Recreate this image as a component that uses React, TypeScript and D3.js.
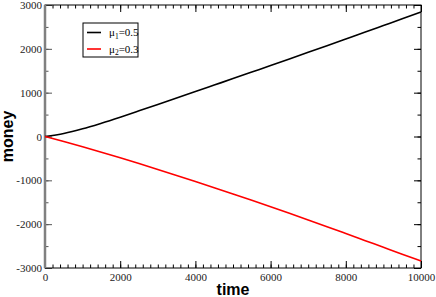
import { useEffect, useRef } from "react";
import * as d3 from "d3";

// time steps and the two money series
const time = [0, 500, 1000, 1500, 2000, 2500, 3000, 3500, 4000, 4500, 5000, 5500, 6000, 6500, 7000, 7500, 8000, 8500, 9000, 9500, 10000];
const moneyMu1 = [0, 70, 175, 303, 441, 585, 731, 878, 1025, 1173, 1321, 1470, 1619, 1769, 1920, 2072, 2225, 2378, 2532, 2686, 2842];
const moneyMu2 = [0, -115, -235, -359, -487, -618, -752, -889, -1028, -1169, -1312, -1457, -1604, -1753, -1904, -2057, -2213, -2370, -2527, -2684, -2840];

const xTicks = [0, 2000, 4000, 6000, 8000, 10000];
const yTicks = [-3000, -2000, -1000, 0, 1000, 2000, 3000];

const series = [
  { label: "1", mu: "0.5", color: "#000000", values: moneyMu1 },
  { label: "2", mu: "0.3", color: "#ff0000", values: moneyMu2 },
];

const App = () => {
  const ref = useRef<SVGSVGElement>(null);

  useEffect(() => {
    const svg = d3.select(ref.current);
    svg.selectAll("*").remove();

    const margin = { top: 5, right: 15, bottom: 29, left: 45 };
    const W = 436, H = 297;
    const width = W - margin.left - margin.right;
    const height = H - margin.top - margin.bottom;

    const g = svg.append("g").attr("transform", `translate(${margin.left},${margin.top})`);

    const x = d3.scaleLinear().domain([0, 10000]).range([0, width]);
    const y = d3.scaleLinear().domain([-3000, 3000]).range([height, 0]);

    const font = "'Liberation Serif', 'Times New Roman', serif";
    const minorX = d3.range(0, 10001, 200);
    const minorY = d3.range(-3000, 3001, 500);
    const fmt = (d: d3.NumberValue) => String(d);

    // bottom axis
    const bottom = g.append("g").attr("transform", `translate(0,${height})`);
    bottom.append("g").call(d3.axisBottom(x).tickValues(minorX).tickSize(-3.5).tickFormat(() => ""));
    bottom.append("g").call(d3.axisBottom(x).tickValues(xTicks).tickSize(-7).tickPadding(5).tickFormat(fmt));
    // top axis
    g.append("g").call(d3.axisTop(x).tickValues(minorX).tickSize(-3.5).tickFormat(() => ""));
    g.append("g").call(d3.axisTop(x).tickValues(xTicks).tickSize(-7).tickFormat(() => ""));
    // left axis
    const left = g.append("g");
    left.append("g").call(d3.axisLeft(y).tickValues(minorY).tickSize(-3.5).tickFormat(() => ""));
    left.append("g").call(d3.axisLeft(y).tickValues(yTicks).tickSize(-7).tickPadding(3).tickFormat(fmt));
    // right axis
    const right = g.append("g").attr("transform", `translate(${width},0)`);
    right.append("g").call(d3.axisRight(y).tickValues(minorY).tickSize(-3.5).tickFormat(() => ""));
    right.append("g").call(d3.axisRight(y).tickValues(yTicks).tickSize(-7).tickFormat(() => ""));

    g.selectAll(".domain").remove();
    g.selectAll(".tick line").attr("stroke", "#000").attr("stroke-width", 1);
    left.selectAll(".tick line").attr("stroke", "#555");
    g.selectAll("g").attr("font-family", null);
    g.selectAll(".tick text")
      .style("font-family", font)
      .attr("font-size", 11)
      .attr("fill", "#222");

    // frame
    g.append("rect")
      .attr("x", 0).attr("y", 0)
      .attr("width", width).attr("height", height)
      .attr("fill", "none").attr("stroke", "#000").attr("stroke-width", 1);
    g.append("line")
      .attr("x1", 0).attr("x2", 0).attr("y1", 0).attr("y2", height)
      .attr("stroke", "#808080").attr("stroke-width", 2.5);

    // lines
    const line = d3.line<number>()
      .x((_, i) => x(time[i]))
      .y((d) => y(d))
      .curve(d3.curveMonotoneX);
    series.forEach((s) => {
      g.append("path")
        .datum(s.values)
        .attr("d", line)
        .attr("fill", "none")
        .attr("stroke", s.color)
        .attr("stroke-width", 1.6);
    });

    // legend
    const lg = g.append("g").attr("transform", "translate(38,18)");
    lg.append("rect")
      .attr("width", 55).attr("height", 34)
      .attr("fill", "#fff").attr("stroke", "#000").attr("stroke-width", 1);
    series.forEach((s, i) => {
      const yy = 9.5 + i * 16.5;
      lg.append("line")
        .attr("x1", 4).attr("x2", 18).attr("y1", yy).attr("y2", yy)
        .attr("stroke", s.color).attr("stroke-width", 1.6);
      const t = lg.append("text")
        .attr("x", 26).attr("y", yy + 3.5)
        .style("font-family", font).attr("font-size", 11).attr("fill", "#000");
      t.append("tspan").text("μ");
      t.append("tspan").attr("font-size", 7.5).attr("dy", 2.5).text(s.label);
      t.append("tspan").attr("dy", -2.5).text("=" + s.mu);
    });

    // axis titles
    svg.append("text")
      .attr("x", margin.left + width / 2).attr("y", 295)
      .attr("text-anchor", "middle")
      .style("font-family", "'Liberation Sans', Arial, sans-serif")
      .attr("font-weight", "bold").attr("font-size", 16)
      .text("time");
    svg.append("text")
      .attr("transform", `translate(13,${margin.top + height / 2}) rotate(-90)`)
      .attr("text-anchor", "middle")
      .style("font-family", "'Liberation Sans', Arial, sans-serif")
      .attr("font-weight", "bold").attr("font-size", 16)
      .text("money");
  }, []);

  return (
    <svg ref={ref} width={436} height={297} style={{ position: "absolute", left: 0, top: 0, background: "#fff" }} />
  );
};

export default App;
